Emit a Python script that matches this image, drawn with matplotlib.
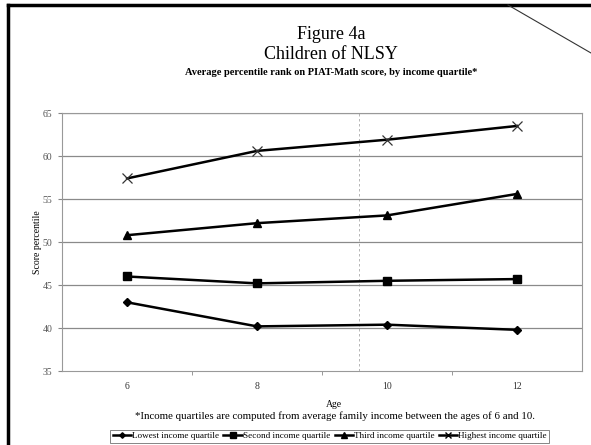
import matplotlib
matplotlib.use("Agg")
import matplotlib.pyplot as plt
from matplotlib.lines import Line2D

ages = ["6", "8", "10", "12"]
lowest = [43.0, 40.2, 40.4, 39.8]
second = [46.0, 45.2, 45.5, 45.7]
third = [50.8, 52.2, 53.1, 55.6]
highest = [57.4, 60.6, 61.9, 63.5]
series_names = ["Lowest income quartile", "Second income quartile",
                "Third income quartile", "Highest income quartile"]
yticks = [35, 40, 45, 50, 55, 60, 65]

plt.rcParams['font.family'] = ['Liberation Serif', 'DejaVu Serif']

fig = plt.figure(figsize=(5.91, 4.45), dpi=100)
ax = fig.add_axes([0.105, 0.166, 0.880, 0.580])

x = list(range(len(ages)))
markers = ['D', 's', '^', 'x']
sizes = [4, 6, 6, 7]
for vals, m, ms, name in zip([lowest, second, third, highest], markers, sizes, series_names):
    ax.plot(x, vals, color='black', lw=1.8, marker=m, ms=ms, mew=1 if m != 'x' else 0.9,
            mfc='black', mec='black' if m != 'x' else '#333333', label=name, zorder=3)

ax.set_xlim(-0.5, len(ages) - 0.5)
ax.set_ylim(35, 65)
ax.set_yticks(yticks)
ax.set_yticklabels([str(t) for t in yticks], fontsize=7, color='#555555')
ax.set_xticks(x)
ax.set_xticklabels(ages, fontsize=7, color='#333333')
ax.set_xticks([i + 0.5 for i in x[:-1]], minor=True)
ax.tick_params(axis='x', which='major', length=0, pad=8)
ax.tick_params(axis='x', which='minor', length=3, color='#888888', direction='out')
ax.tick_params(axis='y', length=3, color='#888888', pad=4)
for yv in yticks[1:]:
    ax.axhline(yv, color='#8a8a8a', lw=0.9, zorder=1)
for s in ax.spines.values():
    s.set_color('#999999')
    s.set_linewidth(0.8)
ax.set_ylabel("Score percentile", fontsize=7, labelpad=0)

# scan artifact vertical dotted line
ax.axvline(1.78, color='#aaaaaa', lw=0.6, ls=(0, (3, 3)), zorder=0.5)

fig.text(0.56, 0.922, "Figure 4a", ha='center', va='center', fontsize=13)
fig.text(0.56, 0.878, "Children of NLSY", ha='center', va='center', fontsize=13)
fig.text(0.56, 0.838, "Average percentile rank on PIAT-Math score, by income quartile*",
         ha='center', va='center', fontsize=7.5, fontweight='bold')
fig.text(0.565, 0.090, "Age", ha='center', va='center', fontsize=7)
fig.text(0.567, 0.065, "*Income quartiles are computed from average family income between the ages of 6 and 10.",
         ha='center', va='center', fontsize=7.8)

handles = [Line2D([0], [0], color='black', lw=1.8, marker=m, ms=ms * 0.7, mfc='black', mec='black')
           for m, ms in zip(markers, sizes)]
leg = fig.legend(handles, series_names, loc='center', bbox_to_anchor=(0.558, 0.020),
                 ncol=4, fontsize=6.6, frameon=True, fancybox=False, handlelength=2.0,
                 handletextpad=0.1, columnspacing=0.5, borderpad=0.25, borderaxespad=0)
leg.get_frame().set_edgecolor('#666666')
leg.get_frame().set_linewidth(0.7)

# page border
fig.add_artist(Line2D([8 / 591, 8 / 591], [0, 1 - 5 / 445], transform=fig.transFigure,
                      color='black', lw=2.5))
fig.add_artist(Line2D([8 / 591, 1], [1 - 5 / 445, 1 - 5 / 445], transform=fig.transFigure,
                      color='black', lw=2.5))
fig.add_artist(Line2D([508 / 591, 1], [1 - 5 / 445, 1 - 53 / 445], transform=fig.transFigure,
                      color='#333333', lw=0.8))

fig.savefig("out.png", dpi=100)
